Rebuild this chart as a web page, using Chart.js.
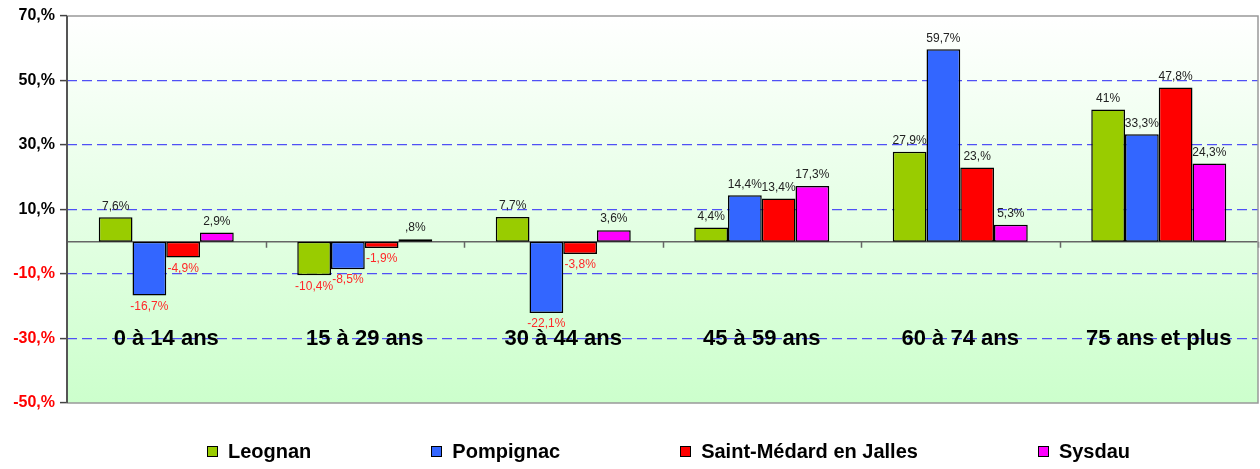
<!DOCTYPE html>
<html>
<head>
<meta charset="utf-8">
<script src="https://cdn.jsdelivr.net/npm/chart.js@4/dist/chart.umd.min.js"></script>
<style>
  html, body { margin: 0; padding: 0; background: #fff; }
  #wrap { position: relative; width: 1260px; height: 469px; }
  #legende {
    position: absolute; left: 207px; top: 440px;
    display: flex; gap: 120px; align-items: center;
    font: bold 20px "Liberation Sans", Arial, sans-serif; color: #000;
  }
  #legende span.item { display: flex; align-items: center; }
  #legende span.box { width: 9px; height: 9px; border: 1.5px solid #000; margin-right: 10px; }
</style>
</head>
<body>
<div id="wrap">
  <canvas id="graphique" width="1260" height="469"></canvas>
  <div id="legende"></div>
</div>
<script>
const categories = ['0 à 14 ans', '15 à 29 ans', '30 à 44 ans', '45 à 59 ans', '60 à 74 ans', '75 ans et plus'];
const communes = ['Leognan', 'Pompignac', 'Saint-Médard en Jalles', 'Sysdau'];
const couleurs = ['#99cc00', '#3366ff', '#ff0000', '#ff00ff'];

const leognan = [7.6, -10.4, 7.7, 4.4, 27.9, 41];
const pompignac = [-16.7, -8.5, -22.1, 14.4, 59.7, 33.3];
const saintMedard = [-4.9, -1.9, -3.8, 13.4, 23, 47.8];
const sysdau = [2.9, 0.8, 3.6, 17.3, 5.3, 24.3];

// libellés tels qu'affichés (format Excel)
const etiquettesLeognan = ['7,6%', '-10,4%', '7,7%', '4,4%', '27,9%', '41%'];
const etiquettesPompignac = ['-16,7%', '-8,5%', '-22,1%', '14,4%', '59,7%', '33,3%'];
const etiquettesSaintMedard = ['-4,9%', '-1,9%', '-3,8%', '13,4%', '23,%', '47,8%'];
const etiquettesSysdau = ['2,9%', ',8%', '3,6%', '17,3%', '5,3%', '24,3%'];

const series = [leognan, pompignac, saintMedard, sysdau];
const etiquettes = [etiquettesLeognan, etiquettesPompignac, etiquettesSaintMedard, etiquettesSysdau];

const yTicks = { min: -50, max: 70, step: 20 };

const fondEtCadre = {
  id: 'fondEtCadre',
  beforeDraw(chart) {
    const { ctx, chartArea: a } = chart;
    const g = ctx.createLinearGradient(0, a.top, 0, a.bottom);
    g.addColorStop(0, '#ffffff');
    g.addColorStop(1, '#ccffcc');
    ctx.save();
    ctx.fillStyle = g;
    ctx.fillRect(a.left, a.top, a.right - a.left, a.bottom - a.top);
    ctx.restore();
  },
  beforeDatasetsDraw(chart) {
    const { ctx, chartArea: a, scales } = chart;
    const y0 = scales.y.getPixelForValue(0);
    const x = scales.x;
    ctx.save();
    // ligne du zéro
    ctx.strokeStyle = '#666';
    ctx.lineWidth = 1.5;
    ctx.beginPath();
    ctx.moveTo(a.left, y0);
    ctx.lineTo(a.right, y0);
    // graduations entre catégories
    for (let i = 0; i < categories.length; i++) {
      const xx = i + 1 < categories.length ? (x.getPixelForValue(i) + x.getPixelForValue(i + 1)) / 2 : a.right;
      ctx.moveTo(Math.round(xx) + 0.5, y0);
      ctx.lineTo(Math.round(xx) + 0.5, y0 + 6);
    }
    ctx.stroke();
    // noms des catégories
    ctx.fillStyle = '#000';
    ctx.font = 'bold 22px "Liberation Sans", Arial, sans-serif';
    ctx.textAlign = 'center';
    ctx.textBaseline = 'middle';
    const yLab = scales.y.getPixelForValue(-30);
    categories.forEach((c, i) => ctx.fillText(c, x.getPixelForValue(i), yLab));
    ctx.restore();
  },
  afterDatasetsDraw(chart) {
    const { ctx } = chart;
    ctx.save();
    ctx.font = '12px "Liberation Sans", Arial, sans-serif';
    ctx.textAlign = 'center';
    chart.data.datasets.forEach((ds, d) => {
      const meta = chart.getDatasetMeta(d);
      meta.data.forEach((bar, i) => {
        const v = ds.data[i];
        if (v >= 0) {
          ctx.fillStyle = '#222';
          ctx.textBaseline = 'bottom';
          ctx.fillText(etiquettes[d][i], bar.x, bar.y - 5);
        } else {
          ctx.fillStyle = '#ff2828';
          ctx.textBaseline = 'top';
          ctx.fillText(etiquettes[d][i], bar.x, bar.y + 5);
        }
      });
    });
    ctx.restore();
  },
  afterDraw(chart) {
    const { ctx, chartArea: a } = chart;
    ctx.save();
    ctx.strokeStyle = '#999';
    ctx.lineWidth = 1.5;
    ctx.beginPath();
    ctx.moveTo(a.left, a.top);
    ctx.lineTo(a.right, a.top);
    ctx.lineTo(a.right, a.bottom);
    ctx.lineTo(a.left, a.bottom);
    ctx.stroke();
    ctx.strokeStyle = '#555';
    ctx.lineWidth = 2;
    ctx.beginPath();
    ctx.moveTo(a.left, a.top);
    ctx.lineTo(a.left, a.bottom);
    ctx.stroke();
    ctx.restore();
  }
};

new Chart(document.getElementById('graphique'), {
  type: 'bar',
  data: {
    labels: categories,
    datasets: communes.map((nom, i) => ({
      label: nom,
      data: series[i],
      backgroundColor: couleurs[i],
      borderColor: '#000',
      borderWidth: 1.5,
      borderSkipped: false,
      barPercentage: 1,
      categoryPercentage: 0.68
    }))
  },
  options: {
    responsive: false,
    animation: false,
    layout: { padding: { top: 16, right: 2, bottom: 66, left: 0 } },
    plugins: { legend: { display: false }, tooltip: { enabled: false } },
    scales: {
      x: { display: false },
      y: {
        min: yTicks.min,
        max: yTicks.max,
        afterFit(scale) { scale.width = 67; },
        ticks: {
          stepSize: yTicks.step,
          padding: 5,
          font: { family: '"Liberation Sans", Arial, sans-serif', size: 16, weight: 'bold' },
          color: ctx => ctx.tick.value < 0 ? '#ff0000' : '#000',
          callback: v => v + ',%'
        },
        grid: {
          color: ctx => (ctx.tick.value === yTicks.min || ctx.tick.value === yTicks.max) ? 'rgba(0,0,0,0)' : '#5050f5',
          lineWidth: 1.2,
          tickColor: '#444',
          tickLength: 7,
          tickWidth: 1.5,
          tickBorderDash: []
        },
        border: { display: false, dash: [10, 5] }
      }
    }
  },
  plugins: [fondEtCadre]
});

const legende = document.getElementById('legende');
communes.forEach((nom, i) => {
  const item = document.createElement('span');
  item.className = 'item';
  const box = document.createElement('span');
  box.className = 'box';
  box.style.background = couleurs[i];
  item.appendChild(box);
  item.appendChild(document.createTextNode(nom));
  legende.appendChild(item);
});
</script>
</body>
</html>
